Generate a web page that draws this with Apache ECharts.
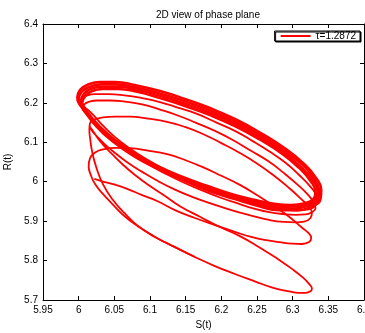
<!DOCTYPE html>
<html><head><meta charset="utf-8">
<script src="https://cdn.jsdelivr.net/npm/echarts@6/dist/echarts.min.js"></script>
<style>html,body{margin:0;padding:0;background:#fff}#c{width:365px;height:333px}</style>
</head><body><div id="c"></div>
<script>
const titleText = '2D view of phase plane';
const seriesName = 'τ=1.2872';
const xTickLabels = ['5.95','6','6.05','6.1','6.15','6.2','6.25','6.3','6.35','6.4'];
const yTickLabels = ['5.7','5.8','5.9','6','6.1','6.2','6.3','6.4'];

// first turns of the trajectory (S, R): lowest turn flowing into the next one
const turnA = [[6.015,6.141],[6.021,6.126],[6.030,6.103],[6.044,6.075],[6.061,6.045],[6.079,6.017],[6.100,5.989],[6.121,5.964],[6.142,5.938],[6.170,5.911],[6.198,5.885],[6.226,5.862],[6.253,5.834],[6.279,5.804],[6.299,5.779],[6.315,5.756],[6.323,5.741],[6.327,5.729],[6.325,5.722],[6.318,5.718],[6.308,5.718],[6.295,5.722],[6.274,5.730],[6.246,5.748],[6.219,5.766],[6.191,5.786],[6.163,5.809],[6.135,5.834],[6.107,5.860],[6.083,5.888],[6.064,5.921],[6.047,5.956],[6.034,5.994],[6.025,6.035],[6.019,6.075],[6.016,6.111],[6.015,6.131],
  [6.016,6.149],[6.023,6.158],[6.034,6.163],[6.051,6.165],[6.072,6.165],[6.097,6.160],[6.124,6.152],[6.149,6.139],[6.174,6.121],[6.200,6.098],[6.226,6.073],[6.251,6.045],[6.274,6.015],[6.295,5.984],[6.312,5.956],[6.323,5.936],[6.327,5.921],[6.325,5.908],[6.316,5.899],[6.304,5.897],[6.288,5.898],[6.267,5.903],[6.242,5.914],[6.214,5.928],[6.187,5.944],[6.160,5.961],[6.135,5.980],[6.111,6.002],[6.089,6.025],[6.069,6.048],[6.051,6.073],[6.036,6.096],[6.025,6.116],[6.018,6.131],[6.015,6.144]];
const turnB = [[6.163,5.809],[6.135,5.834],[6.107,5.860],[6.084,5.886],[6.064,5.913],[6.047,5.944],[6.034,5.969],[6.023,5.994],[6.017,6.017],[6.014,6.040],[6.016,6.060],[6.023,6.074],[6.034,6.082],[6.051,6.086],[6.072,6.085],[6.097,6.079],[6.124,6.070],[6.149,6.055],[6.174,6.037],[6.200,6.015],[6.226,5.992],[6.251,5.965],[6.274,5.938],[6.295,5.911],[6.312,5.885],[6.322,5.870],[6.326,5.857],[6.323,5.847],[6.313,5.842],[6.299,5.843],[6.284,5.846],[6.265,5.851],[6.242,5.860],[6.219,5.873],[6.191,5.890],[6.163,5.908],[6.135,5.928],[6.110,5.951],[6.089,5.966],[6.068,5.982],[6.048,5.994],[6.033,6.001],[6.022,6.007]];
const turnC = [[6.005,6.184],[6.008,6.196],[6.015,6.203],[6.026,6.206],[6.044,6.206],[6.065,6.203],[6.089,6.196],[6.114,6.183],[6.139,6.168],[6.164,6.150],[6.191,6.129],[6.216,6.106],[6.241,6.079],[6.265,6.053],[6.287,6.023],[6.306,5.994],[6.322,5.966],[6.330,5.946],[6.332,5.933],[6.327,5.923],[6.318,5.917],[6.304,5.916],[6.287,5.918],[6.267,5.923],[6.246,5.932],[6.223,5.945],[6.198,5.960],[6.173,5.978],[6.147,5.998],[6.122,6.020],[6.100,6.042],[6.078,6.068],[6.057,6.093],[6.039,6.121],[6.023,6.149],[6.012,6.169],[6.005,6.184]];
const turnD = [[6.002,6.200],[6.005,6.212],[6.012,6.219],[6.023,6.222],[6.041,6.222],[6.064,6.219],[6.089,6.212],[6.114,6.202],[6.139,6.188],[6.166,6.172],[6.192,6.151],[6.219,6.129],[6.244,6.103],[6.267,6.077],[6.290,6.048],[6.309,6.017],[6.325,5.987],[6.333,5.964],[6.334,5.949],[6.330,5.936],[6.320,5.929],[6.306,5.927],[6.288,5.930],[6.267,5.936],[6.245,5.946],[6.221,5.959],[6.196,5.974],[6.170,5.992],[6.143,6.012],[6.118,6.034],[6.094,6.058],[6.072,6.084],[6.051,6.113],[6.033,6.144],[6.019,6.172],[6.008,6.190],[6.002,6.200]];
// limit-cycle band (several nearly overlapping turns)
const band1 = [[5.998,6.212],[6.002,6.233],[6.014,6.247],[6.030,6.253],[6.051,6.253],[6.079,6.245],[6.114,6.230],[6.149,6.210],[6.184,6.187],[6.219,6.159],[6.253,6.126],[6.288,6.086],[6.316,6.045],[6.333,6.009],[6.340,5.979],[6.339,5.956],[6.327,5.938],[6.306,5.928],[6.281,5.928],[6.253,5.938],[6.219,5.956],[6.184,5.976],[6.149,6.002],[6.114,6.030],[6.079,6.063],[6.047,6.103],[6.023,6.144],[6.008,6.180],[6.000,6.200],[5.998,6.212]];
const band2 = [[6.000,6.208],[6.004,6.228],[6.016,6.241],[6.031,6.247],[6.052,6.247],[6.080,6.239],[6.114,6.224],[6.149,6.204],[6.184,6.181],[6.219,6.153],[6.253,6.120],[6.287,6.081],[6.314,6.042],[6.330,6.007],[6.337,5.977],[6.336,5.956],[6.324,5.941],[6.303,5.932],[6.279,5.933],[6.251,5.943],[6.217,5.960],[6.183,5.980],[6.148,6.005],[6.114,6.032],[6.079,6.065],[6.048,6.104],[6.025,6.143],[6.010,6.177],[6.002,6.197],[6.000,6.208]];
const band3 = [[6.003,6.204],[6.007,6.222],[6.017,6.236],[6.033,6.241],[6.054,6.241],[6.081,6.234],[6.114,6.218],[6.149,6.198],[6.184,6.175],[6.219,6.147],[6.253,6.114],[6.287,6.075],[6.311,6.038],[6.328,6.004],[6.335,5.976],[6.332,5.956],[6.321,5.943],[6.301,5.937],[6.276,5.939],[6.248,5.949],[6.216,5.965],[6.182,5.985],[6.147,6.009],[6.114,6.035],[6.080,6.068],[6.050,6.105],[6.027,6.142],[6.012,6.175],[6.005,6.193],[6.003,6.204]];
const band4 = [[6.005,6.200],[6.009,6.217],[6.019,6.230],[6.034,6.235],[6.055,6.235],[6.082,6.228],[6.114,6.212],[6.149,6.192],[6.184,6.169],[6.219,6.141],[6.253,6.108],[6.286,6.070],[6.309,6.035],[6.325,6.002],[6.332,5.974],[6.329,5.956],[6.318,5.946],[6.298,5.941],[6.274,5.944],[6.246,5.954],[6.214,5.969],[6.181,5.989],[6.146,6.012],[6.114,6.037],[6.080,6.070],[6.051,6.106],[6.029,6.141],[6.014,6.172],[6.007,6.190],[6.005,6.200]];

const turns = [turnA, turnB, turnC, turnD];
const bands = [band1, band2, band3, band4];

const xVals = xTickLabels.map(Number), yVals = yTickLabels.map(Number);
const xMin = xVals[0], xMax = xVals[xVals.length-1], xStep = +(xVals[1]-xVals[0]).toFixed(4);
const yMin = yVals[0], yMax = yVals[yVals.length-1], yStep = +(yVals[1]-yVals[0]).toFixed(4);
const fmt = v => String(Math.round(v*1000)/1000);
const font = 'Liberation Sans, Arial, Helvetica, sans-serif';
const lineAx = {lineStyle:{color:'#000',width:1}};
const tick = {inside:true,length:4,lineStyle:{color:'#000',width:1}};
const mk = (d, w) => ({name:seriesName,type:'line',data:d,smooth:0.5,showSymbol:false,symbol:'none',
    lineStyle:{color:'#ff0000',width:w},itemStyle:{color:'#ff0000'},xAxisIndex:0,yAxisIndex:0,silent:true});

const chart = echarts.init(document.getElementById('c'), null, {renderer:'canvas'});
chart.setOption({
  animation:false,
  backgroundColor:'#fff',
  title:{text:titleText,left:203,textAlign:'center',top:5,textStyle:{fontSize:10,fontWeight:'normal',color:'#000',fontFamily:font}},
  grid:{left:43,right:1,top:24,bottom:33,containLabel:false,outerBoundsMode:'none'},
  legend:{data:[seriesName],right:5,top:31,orient:'horizontal',padding:[0,4,0,6],itemGap:4,itemWidth:30,itemHeight:2,icon:'rect',
    borderColor:'#000',borderWidth:1,backgroundColor:'#fff',shadowColor:'#000',shadowBlur:0,shadowOffsetX:1,shadowOffsetY:1,
    textStyle:{fontSize:10,color:'#000',fontFamily:font}},
  xAxis:[
    {type:'value',min:xMin,max:xMax,interval:xStep,position:'bottom',name:'S(t)',nameLocation:'middle',nameGap:19,
     nameTextStyle:{fontSize:10,color:'#000',fontFamily:font},
     axisLine:lineAx,axisTick:tick,splitLine:{show:false},
     axisLabel:{formatter:fmt,fontSize:10,color:'#000',fontFamily:font,margin:5,showMaxLabel:true,hideOverlap:false}},
    {type:'value',min:xMin,max:xMax,interval:xStep,position:'top',axisLine:lineAx,axisTick:tick,splitLine:{show:false},axisLabel:{show:false}}
  ],
  yAxis:[
    {type:'value',min:yMin,max:yMax,interval:yStep,position:'left',name:'R(t)',nameLocation:'middle',nameGap:26,
     nameTextStyle:{fontSize:10,color:'#000',fontFamily:font},
     axisLine:lineAx,axisTick:tick,splitLine:{show:false},
     axisLabel:{formatter:fmt,fontSize:10,color:'#000',fontFamily:font,margin:5}},
    {type:'value',min:yMin,max:yMax,interval:yStep,position:'right',axisLine:lineAx,axisTick:tick,splitLine:{show:false},axisLabel:{show:false}}
  ],
  series: turns.map(d => mk(d, 1.8)).concat(bands.map(d => mk(d, 2.6)))
});
</script></body></html>
